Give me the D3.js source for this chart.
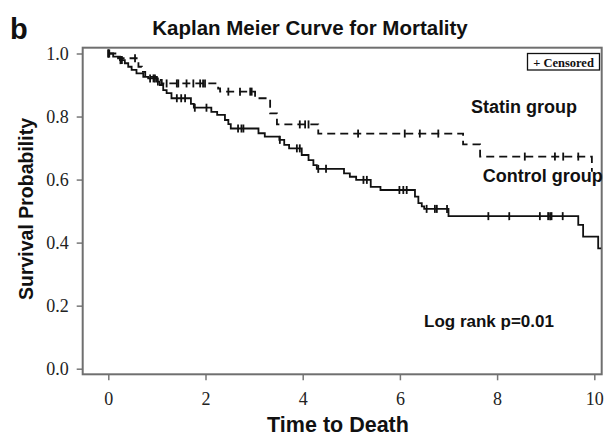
<!DOCTYPE html>
<html>
<head>
<meta charset="utf-8">
<script src="https://cdnjs.cloudflare.com/ajax/libs/d3/7.8.5/d3.min.js"></script>
<style>
  body { margin: 0; background: #fff; }
  svg { display: block; }
  .lbl { font-family: "Liberation Sans", Arial, sans-serif; font-weight: bold; fill: #111; }
  .tick text { font-family: "Liberation Serif", "Times New Roman", serif; font-size: 18px; fill: #222; }
</style>
</head>
<body>
<svg id="chart" width="608" height="438"></svg>
<script>
// step changes: [time, survival after the drop]
const controlSteps = [
  [0, 1.0], [0.10, 0.990], [0.24, 0.979], [0.34, 0.969], [0.41, 0.958], [0.48, 0.948],
  [0.58, 0.937], [0.72, 0.926], [0.82, 0.921], [1.00, 0.911], [1.06, 0.900], [1.13, 0.884],
  [1.20, 0.874], [1.30, 0.858], [1.70, 0.840], [1.76, 0.828], [2.12, 0.815], [2.24, 0.805],
  [2.40, 0.789], [2.47, 0.776], [2.52, 0.762], [3.09, 0.747], [3.22, 0.736], [3.52, 0.726],
  [3.62, 0.710], [3.72, 0.699], [3.98, 0.678], [4.12, 0.662], [4.22, 0.646], [4.29, 0.634],
  [4.85, 0.620], [4.97, 0.609], [5.10, 0.599], [5.40, 0.577], [5.60, 0.567], [6.31, 0.546],
  [6.38, 0.525], [6.45, 0.515], [6.50, 0.507], [7.00, 0.484], [9.67, 0.456], [9.77, 0.419],
  [10.08, 0.382]
];
const controlEnd = 10.14;
const controlCensored = [
  0.0, 0.02, 0.25, 0.28, 0.86, 0.93, 0.96, 1.02, 1.41, 1.50, 1.58, 1.78, 2.02, 2.67, 2.74, 2.78,
  3.53, 3.88, 3.94, 4.32, 4.48, 5.25, 5.32, 5.99, 6.07, 6.14, 6.55, 6.72, 6.76, 6.97,
  7.82, 8.25, 8.88, 9.05, 9.09, 9.12, 9.35
];

const statinSteps = [
  [0, 1.0], [0.20, 0.985], [0.62, 0.958], [0.69, 0.942], [0.76, 0.926], [1.00, 0.916],
  [1.10, 0.905], [2.26, 0.889], [2.30, 0.879], [3.02, 0.858], [3.33, 0.810], [3.47, 0.775],
  [4.32, 0.746], [7.30, 0.712], [7.65, 0.673], [9.95, 0.628]
];
const statinEnd = 9.97;
const statinCensored = [
  0.0, 0.55, 1.20, 1.41, 1.44, 1.61, 1.75, 1.89, 1.95, 1.99, 2.47, 2.71, 2.92, 2.95,
  3.94, 4.05, 4.12, 5.14, 6.10, 6.41, 6.79, 8.57, 9.19, 9.36, 9.67
];

const xTicks = [0, 2, 4, 6, 8, 10];
const yTicks = [0, 0.2, 0.4, 0.6, 0.8, 1.0];

const svg = d3.select("#chart");

const frame = { left: 82.7, right: 601.7, top: 47.7, bottom: 374.3 };
const x = d3.scaleLinear().domain([0, 10]).range([108.3, 594.3]);
const y = d3.scaleLinear().domain([0, 1]).range([368.7, 53.5]);

// axes (ticks only, frame drawn separately)
const xAxis = svg.append("g")
  .attr("transform", "translate(0," + frame.bottom + ")")
  .call(d3.axisBottom(x).tickValues(xTicks).tickFormat(d3.format("d")).tickSize(6).tickPadding(12));
const yAxis = svg.append("g")
  .attr("transform", "translate(" + frame.left + ",0)")
  .call(d3.axisLeft(y).tickValues(yTicks).tickFormat(d3.format(".1f")).tickSize(6).tickPadding(8));
[xAxis, yAxis].forEach((a) => {
  a.select(".domain").remove();
  a.selectAll(".tick line").attr("stroke", "#777").attr("stroke-width", 1.5);
});

svg.append("rect")
  .attr("x", frame.left).attr("y", frame.top)
  .attr("width", frame.right - frame.left).attr("height", frame.bottom - frame.top)
  .attr("fill", "none").attr("stroke", "#6f6f6f").attr("stroke-width", 2);

const survAt = (steps, t) => {
  let s = steps[0][1];
  steps.forEach((d) => { if (d[0] <= t) { s = d[1]; } });
  return s;
};

const line = d3.line().x((d) => x(d[0])).y((d) => y(d[1])).curve(d3.curveStepAfter);

const drawGroup = (steps, end, censored, dash) => {
  const pts = steps.concat([[end, steps[steps.length - 1][1]]]);
  svg.append("path")
    .datum(pts)
    .attr("d", line)
    .attr("fill", "none")
    .attr("stroke", "#111")
    .attr("stroke-width", 1.8)
    .attr("stroke-dasharray", dash);

  svg.append("g").selectAll("line")
    .data(censored)
    .enter().append("line")
    .attr("x1", (d) => x(d)).attr("x2", (d) => x(d))
    .attr("y1", (d) => y(survAt(steps, d)) - 4)
    .attr("y2", (d) => y(survAt(steps, d)) + 4)
    .attr("stroke", "#111")
    .attr("stroke-width", 1.8);
};

drawGroup(controlSteps, controlEnd, controlCensored, null);
drawGroup(statinSteps, statinEnd, statinCensored, "8,5");

// legend box
svg.append("rect")
  .attr("x", 527.5).attr("y", 53.5).attr("width", 72).attr("height", 16.5)
  .attr("fill", "#fff").attr("stroke", "#111").attr("stroke-width", 1.3);
svg.append("text")
  .attr("x", 563.5).attr("y", 66.5)
  .attr("text-anchor", "middle")
  .style("font-family", "'Liberation Serif', serif")
  .style("font-weight", "bold").style("font-size", "12.5px").style("fill", "#111")
  .text("+ Censored");

// labels
svg.append("text").attr("class", "lbl").attr("x", 10).attr("y", 39)
  .style("font-size", "29px").text("b");
svg.append("text").attr("class", "lbl").attr("x", 310).attr("y", 35)
  .attr("text-anchor", "middle").style("font-size", "20.5px")
  .text("Kaplan Meier Curve for Mortality");
svg.append("text").attr("class", "lbl").attr("x", 338).attr("y", 432)
  .attr("text-anchor", "middle").style("font-size", "21.5px").text("Time to Death");
svg.append("text").attr("class", "lbl")
  .attr("transform", "translate(33,209) rotate(-90)")
  .attr("text-anchor", "middle").style("font-size", "19.5px").text("Survival Probability");
svg.append("text").attr("class", "lbl").attr("x", 471).attr("y", 113)
  .style("font-size", "18px").text("Statin group");
svg.append("text").attr("class", "lbl").attr("x", 482.7).attr("y", 182)
  .style("font-size", "18px").text("Control group");
svg.append("text").attr("class", "lbl").attr("x", 424).attr("y", 327)
  .style("font-size", "17px").text("Log rank p=0.01");
</script>
</body>
</html>
